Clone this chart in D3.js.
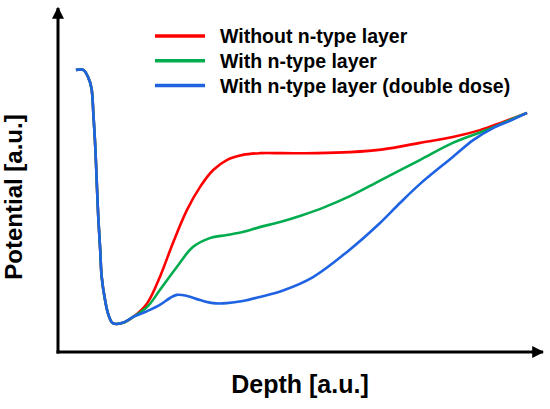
<!DOCTYPE html>
<html><head><meta charset="utf-8">
<script src="https://cdn.jsdelivr.net/npm/d3@7"></script>
<style>body{margin:0;background:#fff}svg{display:block}</style>
</head><body>
<svg id="c" width="550" height="409"></svg>
<script>
// Series names / legend labels
const seriesNames = ["Without n-type layer", "With n-type layer", "With n-type layer (double dose)"];
const seriesColors = ["#ff0000", "#00ac4e", "#1f63e2"];
const xLabel = "Depth [a.u.]";
const yLabel = "Potential [a.u.]";

// shared start (surface dip) [depth, potential]
const commonStart = [[3.7,82.0],[5.2,82.0],[6.2,79.9],[6.9,76.7],[7.3,69.1],[7.7,59.2],[8.0,49.1],[8.3,39.4],[8.7,29.7],[9.0,22.0],[9.7,15.1],[10.4,10.8],[11.3,8.4],[13.2,8.4],[15.5,10.2]];

const redValues = [[18.4,14.2],[21.0,21.8],[23.7,31.7],[26.6,41.3],[29.3,48.0],[32.0,52.9],[34.8,55.8],[38.1,57.3],[41.6,57.8],[46.4,57.8],[53.4,57.8],[60.2,58.1],[67.0,58.9],[74.6,60.8],[81.4,62.5],[87.0,64.5],[91.8,66.9],[96.7,69.5]];
const greenValues = [[18.4,13.1],[21.0,18.0],[24.5,24.7],[27.8,30.5],[31.3,33.1],[34.8,34.0],[38.1,34.9],[41.6,36.3],[45.8,37.8],[50.2,39.7],[54.6,41.9],[60.2,45.3],[66.4,49.8],[74.6,55.8],[81.4,60.8],[88.5,64.6],[91.8,66.6],[96.7,69.5]];
const blueValues = [[18.4,11.9],[21.0,13.7],[23.1,15.7],[24.5,16.6],[26.6,16.3],[29.3,15.1],[32.0,14.2],[34.8,14.2],[38.1,14.8],[41.6,16.0],[46.4,17.9],[52.6,21.8],[59.6,29.1],[66.4,37.5],[70.5,43.3],[74.6,48.8],[81.4,56.7],[85.6,61.6],[89.7,65.1],[93.2,67.2],[96.7,69.5]];

const svg = d3.select("#c");
const x = d3.scaleLinear().domain([0,100]).range([58,543]);
const y = d3.scaleLinear().domain([0,100]).range([352,8]);

// axes with arrows
svg.append("defs").append("marker").attr("id","arr").attr("viewBox","0 0 10 10")
  .attr("refX",9).attr("refY",5).attr("markerWidth",4).attr("markerHeight",4)
  .attr("markerUnits","strokeWidth").attr("orient","auto")
  .append("path").attr("d","M0,0L10,5L0,10z").attr("fill","#000");

svg.append("line").attr("x1",x(0)).attr("y1",y(0)+1.5).attr("x2",x(0)).attr("y2",y(100))
  .attr("stroke","#000").attr("stroke-width",3).attr("marker-end","url(#arr)");
svg.append("line").attr("x1",x(0)-1.5).attr("y1",y(0)).attr("x2",x(100)).attr("y2",y(0))
  .attr("stroke","#000").attr("stroke-width",3).attr("marker-end","url(#arr)");

const line = d3.line().x(d=>x(d[0])).y(d=>y(d[1])).curve(d3.curveCatmullRom.alpha(0.5));
const all = [commonStart.concat(redValues), commonStart.concat(greenValues), commonStart.concat(blueValues)];
all.forEach((s,i)=>{
  svg.append("path").attr("d",line(s)).attr("fill","none")
    .attr("stroke",seriesColors[i]).attr("stroke-width",2.6).attr("stroke-linejoin","round");
});

// legend
const lg = svg.append("g").attr("font-family","Liberation Sans, Arial, sans-serif").attr("font-weight","bold").attr("font-size","19.5px");
seriesNames.forEach((n,i)=>{
  const yy = 36 + i*24.8;
  lg.append("line").attr("x1",155).attr("x2",205).attr("y1",yy).attr("y2",yy)
    .attr("stroke",seriesColors[i]).attr("stroke-width",3.5);
  lg.append("text").attr("x",220).attr("y",yy).attr("dy","0.36em").text(n);
});

svg.append("text").attr("x",300).attr("y",393).attr("text-anchor","middle")
  .attr("font-family","Liberation Sans, Arial, sans-serif").attr("font-weight","bold").attr("font-size","25px").text(xLabel);
svg.append("text").attr("transform","translate(22,197) rotate(-90)").attr("text-anchor","middle")
  .attr("font-family","Liberation Sans, Arial, sans-serif").attr("font-weight","bold").attr("font-size","24px").text(yLabel);
</script>
</body></html>
